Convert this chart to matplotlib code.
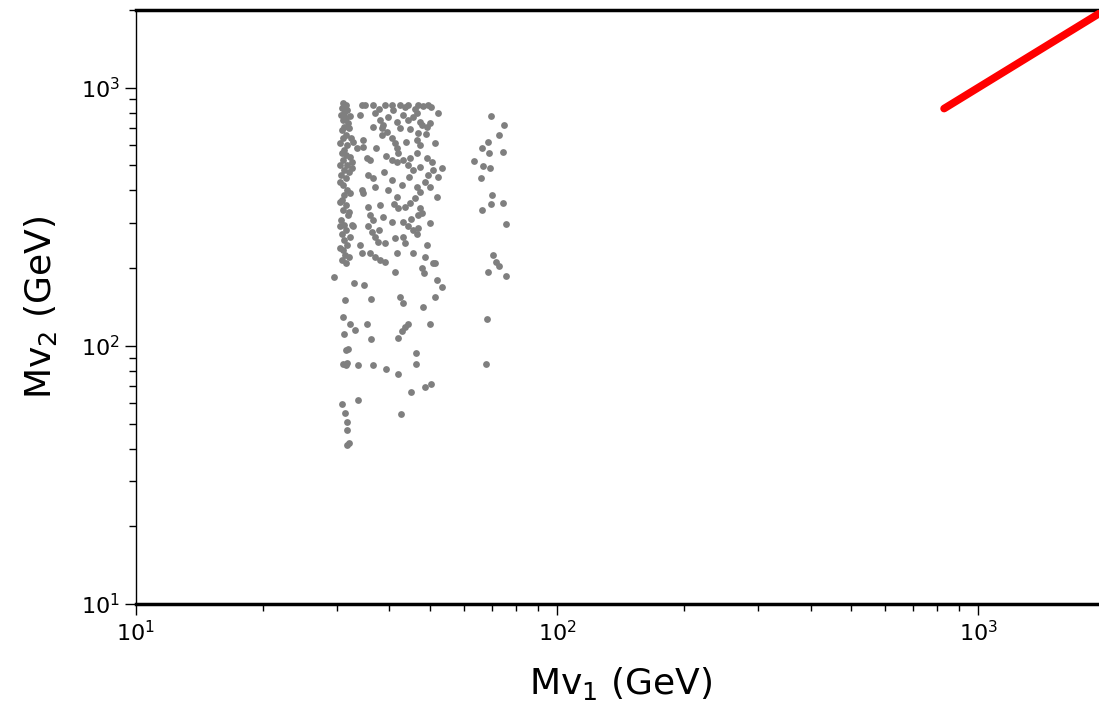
import matplotlib
matplotlib.use("Agg")
import matplotlib.pyplot as plt

# scan points, left edge of the lower band (Mv1, Mv2 in GeV)
mv1_left = [31.0, 31.5, 30.9, 31.7, 31.2, 30.7, 31.5, 31.0, 31.9, 31.2, 30.9, 31.5, 31.0,
            31.7, 31.2, 30.9, 31.5, 31.0, 31.7, 31.2, 30.7, 31.5, 31.0, 31.7, 31.2, 30.9,
            31.5, 31.0, 31.9, 30.7, 31.2, 31.5, 30.9, 31.2, 31.7, 31.0, 31.4, 30.9, 31.5,
            32.2, 32.0, 32.4, 30.5, 32.2, 30.5, 32.0, 30.5, 32.2, 30.5, 32.0, 30.5, 32.2,
            30.5, 32.0]
mv2_left = [875, 859, 837, 822, 800, 786, 765, 751, 731, 705, 688, 658, 641,
            602, 575, 560, 550, 526, 503, 481, 460, 448, 421, 402, 385, 368,
            352, 337, 322, 308, 295, 282, 270, 257, 246, 236, 225, 215, 210,
            780, 700, 640, 610, 540, 500, 470, 430, 390, 360, 330, 290, 265,
            240, 220]

mv1_low = [29.5, 31.4, 31.0, 32.2, 33.1, 31.2, 31.5, 31.9, 31.0, 31.5, 31.7, 33.7, 36.6,
           39.2, 41.8, 46.2, 46.2, 45.0, 48.5, 50.2, 30.9, 33.7, 31.4, 31.7, 31.7, 31.7,
           32.0, 42.6, 33.0, 34.8, 36.1, 35.4, 36.1, 41.3, 42.4, 43.0, 41.8, 42.8, 43.5,
           44.2, 48.0, 50.0, 51.3, 53.3, 51.8, 47.8, 48.2, 51.3]
mv2_low = [184, 151, 129, 122, 115, 111, 96, 97, 85, 84, 86, 84, 84,
           81.5, 78, 94, 85, 66.4, 69.5, 71, 59.5, 61.8, 55, 50.7, 47.2, 41.3,
           42, 54.6, 175, 172, 152, 122, 106, 194, 155, 147, 107, 114, 118,
           122, 141, 122, 155, 169, 180, 201, 192, 210]

# scan points, dense upper block
mv1_top = [34.4, 35.0, 36.5, 39.0, 40.5, 42.4, 44.2, 46.7, 49.3, 52.1, 34.0,
           36.9, 38.0, 38.6, 39.6, 41.6, 42.4, 43.0, 44.2, 45.4, 46.4, 47.2, 47.8, 49.1, 49.9,
           32.8, 33.5, 34.6, 34.6, 36.5, 38.4, 39.4, 40.5, 41.2, 41.6,
           43.9, 46.4, 47.2, 46.7, 51.3, 46.4, 43.0, 44.7, 41.6, 40.5,
           35.3, 36.0, 32.6, 32.6, 49.1, 50.4, 50.7, 53.3,
           44.2, 45.4, 47.2, 49.3, 52.1, 35.5, 36.5, 36.9, 34.4, 34.6,
           40.5, 39.6, 41.6, 46.4, 47.2, 45.9, 49.9, 51.8,
           44.7, 43.5, 41.8, 47.2, 47.8, 46.7, 35.5, 36.0, 36.5, 38.0,
           32.6, 32.8, 40.5, 43.0, 44.2, 45.4, 46.7,
           35.5, 36.3, 36.9, 37.5, 39.0, 41.2, 43.0, 46.4, 49.1,
           34.0, 34.4, 36.0, 36.9, 38.0, 39.0, 41.6, 45.4, 48.5, 50.7,
           37.8, 40.8, 43.5, 45.9, 48.0, 50.2, 38.5, 44.8, 48.8, 42.0, 37.2,
           39.2, 44.5, 38.8, 42.8, 48.6, 41.0, 38.6, 45.0, 49.8, 37.8, 43.6]
mv2_top = [859, 859, 859, 859, 859, 859, 859, 859, 859, 800, 786,
           800, 751, 718, 772, 738, 700, 786, 751, 772, 800, 738, 718, 705, 731,
           618, 586, 629, 591, 705, 658, 676, 641, 612, 586,
           618, 629, 602, 670, 612, 560, 526, 536, 517, 526,
           536, 526, 517, 490, 536, 517, 481, 490,
           503, 481, 494, 460, 452, 460, 448, 413, 402, 392,
           440, 402, 378, 413, 395, 375, 413, 378,
           358, 346, 343, 343, 328, 322, 346, 322, 308, 352,
           295, 290, 303, 303, 290, 282, 287,
           290, 277, 265, 253, 251, 262, 265, 270, 246,
           246, 229, 229, 221, 215, 211, 229, 229, 221, 210,
           830, 820, 840, 830, 850, 840, 700, 690, 660, 560, 585,
           545, 450, 470, 420, 430, 355, 315, 310, 300, 280, 250]

# scan points, second band near 65-75 GeV
mv1_side = [69.8, 74.8, 72.8, 68.5, 66.3, 68.9, 74.3, 63.5, 66.7, 69.3, 66.0,
            70.2, 69.8, 74.3, 66.3, 75.6, 70.6, 71.8, 72.8, 68.5, 75.6, 68.2, 67.9]
mv2_side = [779, 718, 657, 617, 584, 557, 563, 521, 499, 490, 448,
            385, 355, 359, 337, 297, 225, 211, 203, 194, 186, 127, 85]

# degenerate line Mv1 = Mv2
mv_diag = [830, 2000]

mv1_all = mv1_left + mv1_low + mv1_top + mv1_side
mv2_all = mv2_left + mv2_low + mv2_top + mv2_side

fig = plt.figure(figsize=(10.99, 7.07), dpi=100)
ax = fig.add_axes([0.1237, 0.1457, 0.8817, 0.8402])

ax.scatter(mv1_all, mv2_all, s=24, color="#7f7f7f", linewidths=0, zorder=2)
ax.plot(mv_diag, mv_diag, color="red", lw=5.5, solid_capstyle="round", zorder=3)

ax.set_xscale("log")
ax.set_yscale("log")
ax.set_xlim(10, 2000)
ax.set_ylim(10, 2000)

ax.set_xlabel("Mv$_1$ (GeV)", fontsize=26, labelpad=14)
ax.set_ylabel("Mv$_2$ (GeV)", fontsize=26, labelpad=16)
ax.tick_params(which="major", labelsize=16, length=8, width=1)
ax.tick_params(which="minor", length=5, width=1)

ax.spines["left"].set_linewidth(1)
ax.spines["bottom"].set_linewidth(2.5)
ax.spines["top"].set_linewidth(2.5)

fig.savefig("out.png", dpi=100)
